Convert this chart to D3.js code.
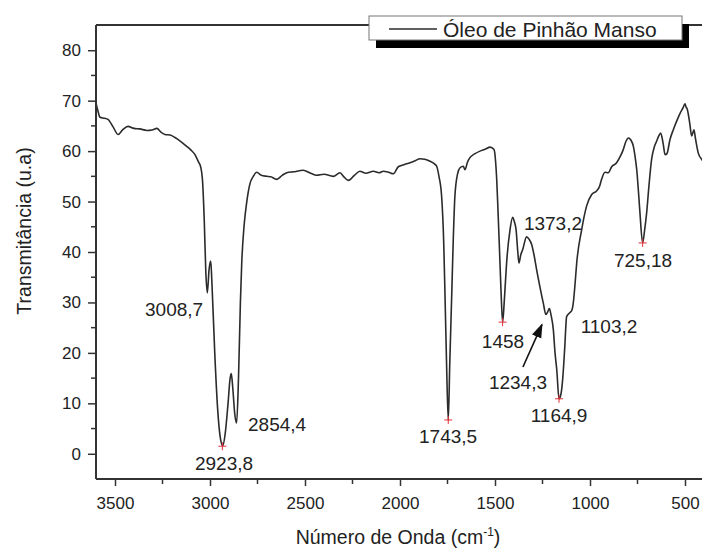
<!DOCTYPE html>
<html><head><meta charset="utf-8">
<script src="https://cdn.jsdelivr.net/npm/d3@7"></script>
<style>
html,body{margin:0;padding:0;background:#fff;}
svg{display:block;font-family:"Liberation Sans",Arial,sans-serif;}
</style></head>
<body>
<svg id="chart" width="702" height="549"></svg>
<script>
// ---- data ----
const seriesName = "Óleo de Pinhão Manso";
const wavenumber = [3600,3590,3579,3555,3537,3510,3484,3460,3432,3400,3370,3332,3305,3279,3260,3237,3210,3184,3150,3121,3100,3079,3060,3050,3040,3030,3022,3014,3005,2996,2990,2975,2960,2945,2933,2920,2905,2894,2888,2880,2870,2860,2850,2840,2833,2820,2807,2790,2772,2754,2730,2702,2680,2649,2620,2596,2560,2509,2470,2439,2400,2351,2316,2300,2272,2240,2211,2180,2140,2110,2088,2060,2035,2009,1980,1947,1920,1895,1870,1842,1820,1807,1795,1781,1770,1763,1755,1746,1738,1728,1720,1711,1697,1684,1667,1658,1645,1632,1605,1579,1550,1526,1505,1497,1491,1484,1477,1468,1460,1450,1439,1421,1407,1398,1389,1380,1374,1364,1354,1334,1320,1307,1295,1281,1263,1246,1232,1222,1214,1205,1193,1184,1175,1163,1152,1144,1133,1123,1105,1095,1088,1078,1070,1044,1018,991,965,950,939,921,904,886,860,840,825,810,798,785,772,763,754,745,737,723,712,702,690,676,660,649,638,628,615,605,595,579,561,540,526,510,500,495,488,475,465,453,445,430,411,400];
const transmittance = [69.5,68.0,66.7,66.5,66.3,64.8,63.3,64.2,64.9,64.5,64.4,64.1,64.2,64.5,63.8,63.3,63.2,62.7,61.8,60.9,60.2,59.3,57.8,57.0,54.5,46,36,31.9,36.5,38.2,34,20,9,3,1.6,4,10,15,15.9,13,8,6.1,15,30,37.8,45.5,49.8,53.5,55.0,55.8,55.2,55.0,54.9,54.4,55.2,55.7,55.9,56.2,55.6,55.2,55.4,55.0,55.7,55.1,54.2,55.2,56.0,55.6,56.0,55.7,56.0,55.8,55.5,56.9,57.3,57.7,58.1,58.5,58.4,58.0,57.5,57.0,55,51.1,42,31.2,18,6.7,18,31.2,42,51.1,55.5,56.7,57.0,56.3,57.8,58.7,59.5,60.0,60.4,60.8,60.3,58,54.4,48,41.1,32,26.1,31,37.8,44.4,46.9,46.0,44.4,40,37.8,39.5,40.5,43.0,42.5,41.5,39.5,36.5,33,29.9,27.6,28.2,28.8,27.5,24.6,20,16.7,10.9,12,14.7,21,27.2,28.0,28.5,29.9,34,37.8,44.4,49.1,51.4,52.1,53,54.4,55.8,55.7,56.9,57.7,59,60.3,62,62.6,62.2,61.0,59,56.3,52,47.7,41.8,44.5,47.7,53,58.3,61,62.0,63,63.6,61.5,59.3,59.5,62.3,64.3,66.3,67.5,68.6,69.4,68.8,68.3,65.5,63.0,64.2,62.5,59.6,58.3,57.8];

const xTicks = [3500,3000,2500,2000,1500,1000,500];
const xMinorTicks = [3250,2750,2250,1750,1250,750];
const yTicks = [0,10,20,30,40,50,60,70,80];
const yMinorTicks = [5,15,25,35,45,55,65,75];

// peak markers (wavenumber, transmittance)
const markerX = [2935,1746,1460,1163,723];
const markerY = [1.5,6.7,26.1,10.9,41.8];

// annotation labels anchored in data coordinates
const labelText = ["3008,7","2923,8","2854,4","1743,5","1458","1373,2","1103,2","1234,3","1164,9","725,18"];
const labelX    = [3189,2926,2647,1747,1458,1195,900,1379,1163,721];
const labelY    = [28.6,-1.8,5.9,3.4,22.4,45.8,25.2,14.1,7.7,38.3];

// arrow (from -> to) in data coordinates
const arrowFrom = [1353,17.2];
const arrowTo   = [1253,25.6];

const xTitle = "Número de Onda (cm";
const yTitle = "Transmitância (u.a)";

// ---- layout ----
const svg = d3.select("#chart");
const L=96, R=704, T=25, B=479;
const x = d3.scaleLinear().domain([3600,400]).range([L,R]);
const y = d3.scaleLinear().domain([-5,85]).range([B,T]);
const axisColor = "#333";

const defs = svg.append("defs");
defs.append("clipPath").attr("id","clip").append("rect")
  .attr("x",L).attr("y",T).attr("width",R-L).attr("height",B-T);
defs.append("marker").attr("id","ah").attr("viewBox","0 0 10 10")
  .attr("refX",9).attr("refY",5).attr("markerWidth",9).attr("markerHeight",9)
  .attr("orient","auto").append("path").attr("d","M0,1.5L10,5L0,8.5Z").attr("fill","#111");

// spectrum
const pts = wavenumber.map((w,i)=>[w,transmittance[i]]);
svg.append("path").datum(pts)
  .attr("clip-path","url(#clip)")
  .attr("fill","none").attr("stroke","#2b2b2b").attr("stroke-width",1.6)
  .attr("stroke-linejoin","round")
  .attr("d", d3.line().x(d=>x(d[0])).y(d=>y(d[1])).curve(d3.curveMonotoneX));

// frame top line
svg.append("line").attr("x1",L).attr("x2",702).attr("y1",T).attr("y2",T)
  .attr("stroke",axisColor).attr("stroke-width",2);

// axes
const gx = svg.append("g").attr("transform",`translate(0,${B})`)
  .call(d3.axisBottom(x).tickValues(xTicks).tickSize(7).tickPadding(11).tickFormat(d3.format("d")));
const gy = svg.append("g").attr("transform",`translate(${L},0)`)
  .call(d3.axisLeft(y).tickValues(yTicks).tickSize(8).tickPadding(7).tickFormat(d3.format("d")));
[gx,gy].forEach(g=>{
  g.select(".domain").attr("stroke",axisColor).attr("stroke-width",2);
  g.selectAll(".tick line").attr("stroke",axisColor).attr("stroke-width",1.5);
  g.selectAll(".tick text").attr("fill","#222").style("font-size","17px")
   .style("font-family",'"Liberation Sans",Arial,sans-serif');
});
gx.select(".domain").attr("d",`M${L},0H${R}`);
gy.select(".domain").attr("d",`M0,${B}V${T}`);

// minor ticks
svg.append("g").selectAll("line").data(xMinorTicks).join("line")
  .attr("x1",d=>x(d)).attr("x2",d=>x(d)).attr("y1",B).attr("y2",B+5)
  .attr("stroke",axisColor).attr("stroke-width",1.5);
svg.append("g").selectAll("line").data(yMinorTicks).join("line")
  .attr("y1",d=>y(d)).attr("y2",d=>y(d)).attr("x1",L).attr("x2",L-5)
  .attr("stroke",axisColor).attr("stroke-width",1.5);

// red plus markers
const mk = svg.append("g").attr("stroke","#e0303a").attr("stroke-width",1);
markerX.forEach((w,i)=>{
  const cx=x(w), cy=y(markerY[i]);
  mk.append("line").attr("x1",cx-4).attr("x2",cx+4).attr("y1",cy).attr("y2",cy);
  mk.append("line").attr("x1",cx).attr("x2",cx).attr("y1",cy-4).attr("y2",cy+4);
});

// annotation labels
svg.append("g").selectAll("text").data(labelText).join("text")
  .attr("x",(d,i)=>x(labelX[i])).attr("y",(d,i)=>y(labelY[i]))
  .attr("dy","0.36em").attr("text-anchor","middle")
  .attr("fill","#222").style("font-size","19px").text(d=>d);

// arrow
svg.append("line")
  .attr("x1",x(arrowFrom[0])).attr("y1",y(arrowFrom[1]))
  .attr("x2",x(arrowTo[0])).attr("y2",y(arrowTo[1]))
  .attr("stroke","#111").attr("stroke-width",1.6).attr("marker-end","url(#ah)");

// axis titles
const xt = svg.append("text").attr("x",398).attr("y",544).attr("text-anchor","middle")
  .attr("fill","#222").style("font-size","19.5px");
xt.append("tspan").text(xTitle);
xt.append("tspan").attr("dy","-8").style("font-size","12px").text("-1");
xt.append("tspan").attr("dy","8").text(")");

svg.append("text").attr("transform","translate(31,231) rotate(-90)")
  .attr("text-anchor","middle").attr("fill","#222").style("font-size","19.5px").text(yTitle);

// legend
const lg = svg.append("g");
lg.append("rect").attr("x",376).attr("y",24).attr("width",313).attr("height",24).attr("fill","#000");
lg.append("rect").attr("x",369).attr("y",16).attr("width",313).attr("height",24)
  .attr("fill","#fff").attr("stroke","#777").attr("stroke-width",1);
lg.append("line").attr("x1",389).attr("x2",437).attr("y1",29).attr("y2",29)
  .attr("stroke","#2b2b2b").attr("stroke-width",1.6);
lg.append("text").attr("x",443).attr("y",29).attr("dy","0.36em")
  .attr("fill","#222").style("font-size","21px").text(seriesName);
</script>
</body></html>
